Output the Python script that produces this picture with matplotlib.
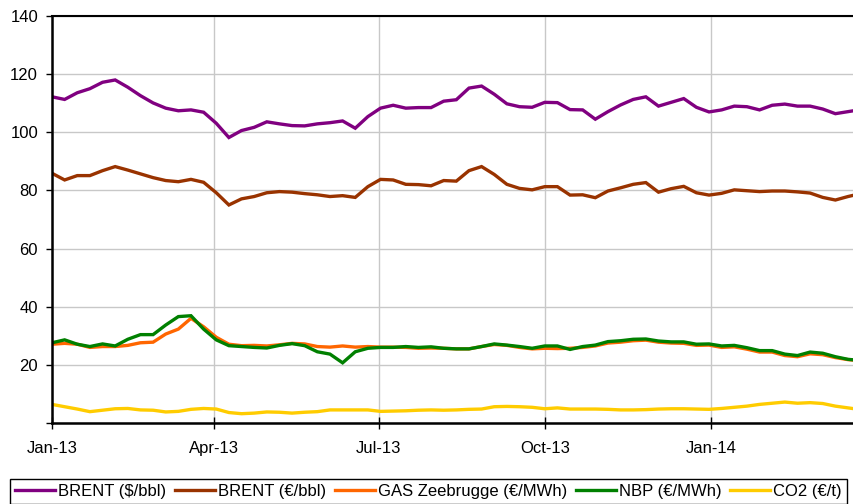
import matplotlib
matplotlib.use("Agg")
import matplotlib.pyplot as plt
import matplotlib.dates as mdates
from matplotlib.ticker import FuncFormatter
import numpy as np
import pandas as pd

plt.rcParams['font.family'] = ['Liberation Sans', 'DejaVu Sans']

# weekly prices, Jan 2013 - Mar 2014
dates = pd.date_range("2013-01-01", periods=65, freq="7D")

brent_usd = [112.2, 111.3, 113.6, 115.0, 117.2, 118.0, 115.5, 112.6, 110.1, 108.3,
             107.4, 107.7, 106.9, 103.1, 98.2, 100.6, 101.7, 103.6, 102.9, 102.3,
             102.2, 102.9, 103.3, 103.9, 101.4, 105.4, 108.3, 109.3, 108.3, 108.5,
             108.5, 110.7, 111.2, 115.2, 115.9, 113.1, 109.8, 108.8, 108.6, 110.3,
             110.2, 107.8, 107.7, 104.5, 107.1, 109.4, 111.3, 112.2, 109.0, 110.3,
             111.6, 108.6, 107.0, 107.7, 109.0, 108.8, 107.7, 109.3, 109.7, 109.0,
             109.0, 108.0, 106.4, 107.1, 107.8]
brent_eur = [85.9, 83.6, 85.1, 85.1, 86.8, 88.2, 87.0, 85.7, 84.4, 83.4,
             83.0, 83.8, 82.8, 79.2, 75.0, 77.1, 77.9, 79.2, 79.6, 79.4,
             78.9, 78.5, 77.9, 78.2, 77.6, 81.3, 83.8, 83.6, 82.1, 82.0,
             81.6, 83.4, 83.2, 86.8, 88.2, 85.5, 82.1, 80.7, 80.2, 81.3,
             81.3, 78.4, 78.5, 77.5, 79.8, 80.9, 82.1, 82.7, 79.4, 80.6,
             81.4, 79.2, 78.4, 79.0, 80.2, 79.9, 79.6, 79.8, 79.8, 79.5,
             79.1, 77.6, 76.7, 77.9, 78.9]
gas_zee = [27.1, 27.4, 27.1, 26.0, 26.3, 26.3, 26.7, 27.6, 27.8, 30.6,
           32.3, 36.0, 33.1, 29.5, 27.1, 26.6, 26.7, 26.5, 26.9, 27.4,
           27.2, 26.3, 26.1, 26.5, 26.1, 26.3, 26.1, 26.1, 26.0, 25.7,
           25.8, 25.7, 25.5, 25.5, 26.3, 27.0, 26.7, 26.0, 25.5, 25.7,
           25.6, 25.7, 26.0, 26.5, 27.5, 27.8, 28.3, 28.5, 27.8, 27.5,
           27.4, 26.7, 26.8, 26.0, 26.2, 25.4, 24.4, 24.4, 23.2, 22.8,
           23.8, 23.5, 22.5, 21.8, 21.4]
nbp = [27.6, 28.6, 27.1, 26.3, 27.2, 26.5, 28.8, 30.4, 30.4, 33.7,
       36.6, 36.9, 32.3, 28.6, 26.6, 26.3, 26.0, 25.8, 26.7, 27.3,
       26.6, 24.5, 23.7, 20.7, 24.5, 25.7, 26.0, 26.0, 26.3, 26.0,
       26.2, 25.7, 25.5, 25.5, 26.3, 27.2, 26.8, 26.3, 25.7, 26.5,
       26.5, 25.3, 26.3, 26.8, 28.0, 28.3, 28.8, 28.9, 28.2, 27.9,
       27.9, 27.1, 27.2, 26.5, 26.7, 25.9, 24.9, 24.9, 23.7, 23.2,
       24.4, 24.0, 22.8, 21.9, 21.5]
co2 = [6.4, 5.6, 4.8, 3.9, 4.4, 4.9, 5.0, 4.5, 4.4, 3.8,
       4.0, 4.7, 5.0, 4.8, 3.6, 3.2, 3.4, 3.8, 3.7, 3.4,
       3.7, 3.9, 4.5, 4.5, 4.5, 4.5, 4.0, 4.1, 4.2, 4.4,
       4.5, 4.4, 4.5, 4.7, 4.8, 5.6, 5.7, 5.6, 5.4, 4.9,
       5.2, 4.8, 4.8, 4.8, 4.7, 4.5, 4.5, 4.6, 4.8, 4.9,
       4.9, 4.8, 4.7, 5.0, 5.4, 5.8, 6.4, 6.8, 7.2, 6.8,
       7.0, 6.7, 5.8, 5.2, 4.6]

series = [
    ("BRENT ($/bbl)", brent_usd, "#800080"),
    ("BRENT (€/bbl)", brent_eur, "#993300"),
    ("GAS Zeebrugge (€/MWh)", gas_zee, "#FF6600"),
    ("NBP (€/MWh)", nbp, "#008000"),
    ("CO2 (€/t)", co2, "#FFCC00"),
]

fig = plt.figure(figsize=(8.54, 5.04), dpi=100)
# axes run past the right edge of the picture, like the cropped original
ax = fig.add_axes([52 / 854, 1 - 423 / 504, 820 / 854, 407 / 504])

for name, vals, col in series:
    ax.plot(dates, vals, color=col, lw=2.4, label=name, solid_joinstyle="miter")

start = pd.Timestamp("2013-01-01")
ax.set_xlim(start, start + pd.Timedelta(days=820 / 1.805))
ax.set_ylim(0, 140)
ax.set_yticks(np.arange(0, 141, 20))
ax.yaxis.set_major_formatter(FuncFormatter(lambda v, p: "" if v == 0 else f"{v:.0f}"))

ax.xaxis.set_major_locator(mdates.MonthLocator(bymonth=[1, 4, 7, 10]))
ax.xaxis.set_major_formatter(mdates.DateFormatter("%b-%y"))

ax.grid(True, color="#c8c8c8", lw=1)
ax.set_axisbelow(True)
for side in ["left", "bottom", "top"]:
    ax.spines[side].set_color("black")
ax.spines["left"].set_linewidth(1.8)
ax.spines["bottom"].set_linewidth(1.8)
ax.spines["top"].set_linewidth(1.5)
ax.spines["right"].set_visible(False)

ax.tick_params(axis="y", direction="out", length=4, width=1, pad=6, labelsize=12)
ax.tick_params(axis="x", direction="inout", length=8, width=1, pad=9, labelsize=12)

fig.legend(loc="upper left", bbox_to_anchor=(10 / 854, 1 - 479 / 504), ncol=5,
           fontsize=12, frameon=True, fancybox=False, edgecolor="black",
           framealpha=1, handlelength=2.4, handletextpad=0.2, columnspacing=0.5,
           borderpad=0.3, borderaxespad=0)
fig.legends[0].get_frame().set_linewidth(1)

fig.savefig("out.png", dpi=100)
